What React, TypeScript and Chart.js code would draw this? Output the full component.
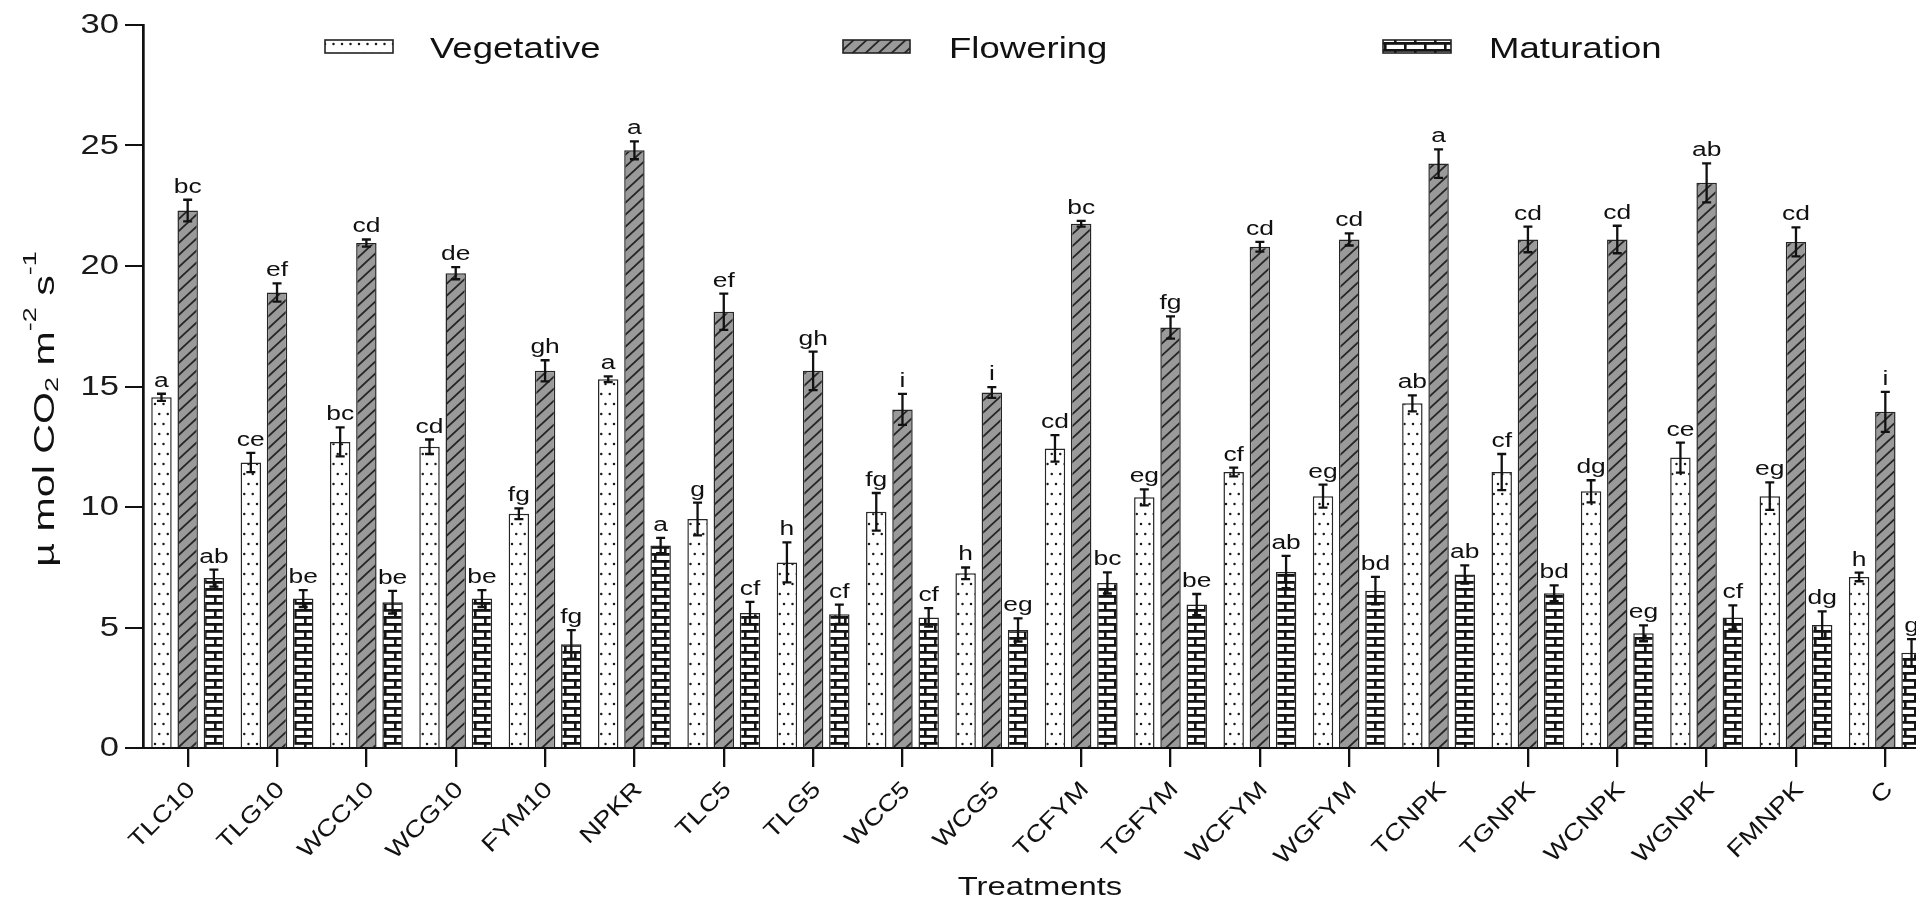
import React, { useEffect, useRef } from 'react';
import { Chart, registerables } from 'chart.js';

Chart.register(...registerables);

const categories = ['TLC10', 'TLG10', 'WCC10', 'WCG10', 'FYM10', 'NPKR', 'TLC5', 'TLG5', 'WCC5', 'WCG5', 'TCFYM', 'TGFYM', 'WCFYM', 'WGFYM', 'TCNPK', 'TGNPK', 'WCNPK', 'WGNPK', 'FMNPK', 'C'];
const seriesNames = ['Vegetative', 'Flowering', 'Maturation'];

const vegetative = [14.55, 11.85, 12.7, 12.5, 9.72, 15.3, 9.5, 7.7, 9.8, 7.25, 12.43, 10.4, 11.45, 10.45, 14.3, 11.45, 10.65, 12.05, 10.45, 7.1];
const vegetativeErr = [0.15, 0.4, 0.6, 0.3, 0.22, 0.12, 0.68, 0.83, 0.78, 0.24, 0.55, 0.33, 0.18, 0.48, 0.33, 0.75, 0.46, 0.62, 0.57, 0.18];
const flowering = [22.3, 18.9, 20.95, 19.7, 15.65, 24.8, 18.1, 15.65, 14.05, 14.75, 21.75, 17.45, 20.8, 21.1, 24.25, 21.1, 21.1, 23.45, 21.0, 13.95];
const floweringErr = [0.45, 0.38, 0.15, 0.25, 0.44, 0.37, 0.75, 0.8, 0.64, 0.22, 0.12, 0.46, 0.2, 0.25, 0.59, 0.53, 0.57, 0.81, 0.6, 0.83];
const maturation = [7.05, 6.2, 6.05, 6.2, 4.3, 8.4, 5.6, 5.55, 5.42, 4.9, 6.85, 5.95, 7.3, 6.53, 7.2, 6.42, 4.76, 5.42, 5.1, 3.95];
const maturationErr = [0.35, 0.35, 0.47, 0.35, 0.59, 0.32, 0.46, 0.4, 0.38, 0.48, 0.44, 0.44, 0.67, 0.57, 0.38, 0.33, 0.33, 0.5, 0.57, 0.57];

const vegetativeLetters = ['a', 'ce', 'bc', 'cd', 'fg', 'a', 'g', 'h', 'fg', 'h', 'cd', 'eg', 'cf', 'eg', 'ab', 'cf', 'dg', 'ce', 'eg', 'h'];
const floweringLetters = ['bc', 'ef', 'cd', 'de', 'gh', 'a', 'ef', 'gh', 'i', 'i', 'bc', 'fg', 'cd', 'cd', 'a', 'cd', 'cd', 'ab', 'cd', 'i'];
const maturationLetters = ['ab', 'be', 'be', 'be', 'fg', 'a', 'cf', 'cf', 'cf', 'eg', 'bc', 'be', 'ab', 'bd', 'ab', 'bd', 'eg', 'cf', 'dg', 'g'];

const yMin = 0;
const yMax = 30;
const yStep = 5;
const xTitle = 'Treatments';

const FONT = '"Liberation Sans", Arial, Helvetica, sans-serif';
const WIDE = 1.28; // horizontal widening of the reference's lettering

function makeDots(): CanvasPattern {
  const c = document.createElement('canvas');
  c.width = 17; c.height = 20;
  const g = c.getContext('2d')!;
  g.fillStyle = '#ffffff';
  g.fillRect(0, 0, 17, 20);
  g.fillStyle = '#1a1a1a';
  const pts = [[2, 4], [10.5, 4], [6.25, 14], [14.75, 14]];
  for (const [x, y] of pts) {
    g.beginPath();
    g.arc(x, y, 1.25, 0, Math.PI * 2);
    g.fill();
  }
  return g.createPattern(c, 'repeat')!;
}

function makeHatch(): CanvasPattern {
  const w = 13, h = 12;
  const c = document.createElement('canvas');
  c.width = w; c.height = h;
  const g = c.getContext('2d')!;
  g.fillStyle = '#9a9a9a';
  g.fillRect(0, 0, w, h);
  g.strokeStyle = '#262626';
  g.lineWidth = 1.8;
  g.beginPath();
  for (let k = 0; k <= 2; k++) {
    g.moveTo((k + 1) * w, -h);
    g.lineTo((k - 2) * w, 2 * h);
  }
  g.stroke();
  return g.createPattern(c, 'repeat')!;
}

function makeBrick(): CanvasPattern {
  const w = 20, h = 14;
  const c = document.createElement('canvas');
  c.width = w; c.height = h;
  const g = c.getContext('2d')!;
  g.fillStyle = '#ffffff';
  g.fillRect(0, 0, w, h);
  g.fillStyle = '#141414';
  g.fillRect(0, 0, w, 2.8);
  g.fillRect(0, 7, w, 2.8);
  g.fillRect(4, 0, 2.6, 7);
  g.fillRect(14, 7, 2.6, 7);
  return g.createPattern(c, 'repeat')!;
}

export default function App() {
  const canvasRef = useRef<HTMLCanvasElement | null>(null);

  useEffect(() => {
    const canvas = canvasRef.current;
    if (!canvas) return;
    const patterns = [makeDots(), makeHatch(), makeBrick()];
    const values = [vegetative, flowering, maturation];
    const errors = [vegetativeErr, floweringErr, maturationErr];
    const letters = [vegetativeLetters, floweringLetters, maturationLetters];

    const errPlugin = {
      id: 'errbars',
      afterDatasetsDraw(chart: any) {
        const ctx = chart.ctx as CanvasRenderingContext2D;
        const ys = chart.scales.y;
        values.forEach((vals, i) => {
          const meta = chart.getDatasetMeta(i);
          meta.data.forEach((bar: any, j: number) => {
            const v = vals[j];
            const e = errors[i][j];
            const x = bar.x;
            const yt = ys.getPixelForValue(v + e);
            const yb = ys.getPixelForValue(v - e);
            ctx.save();
            ctx.strokeStyle = '#111';
            ctx.lineWidth = 2.3;
            ctx.beginPath();
            ctx.moveTo(x, yt); ctx.lineTo(x, yb);
            ctx.moveTo(x - 4.5, yt); ctx.lineTo(x + 4.5, yt);
            ctx.moveTo(x - 4.5, yb); ctx.lineTo(x + 4.5, yb);
            ctx.stroke();
            ctx.translate(x, yt - 7);
            ctx.scale(1.32, 1);
            ctx.font = `20px ${FONT}`;
            ctx.textAlign = 'center';
            ctx.textBaseline = 'alphabetic';
            ctx.fillStyle = '#111';
            ctx.fillText(letters[i][j], 0, 0);
            ctx.restore();
          });
        });
      },
    };

    const decorPlugin = {
      id: 'decor',
      afterDraw(chart: any) {
        const ctx = chart.ctx as CanvasRenderingContext2D;
        const xs = chart.scales.x;
        const ys = chart.scales.y;
        // y tick labels
        ys.ticks.forEach((t: any) => {
          const py = ys.getPixelForValue(t.value);
          ctx.save();
          ctx.translate(119, py);
          ctx.scale(WIDE, 1);
          ctx.font = `27px ${FONT}`;
          ctx.textAlign = 'right';
          ctx.textBaseline = 'middle';
          ctx.fillStyle = '#1a1a1a';
          ctx.fillText(String(t.value), 0, 1);
          ctx.restore();
        });
        // x tick labels (rotated)
        categories.forEach((lab, i) => {
          const tx = xs.getPixelForValue(i);
          ctx.save();
          ctx.translate(tx - 4, 778);
          ctx.rotate(-Math.PI / 4);
          ctx.scale(1.2, 1);
          ctx.font = `23px ${FONT}`;
          ctx.textAlign = 'right';
          ctx.textBaseline = 'top';
          ctx.fillStyle = '#111';
          ctx.fillText(lab, 0, 0);
          ctx.restore();
        });
        // x title
        ctx.save();
        ctx.translate(1040, 895);
        ctx.scale(1.26, 1);
        ctx.font = `26px ${FONT}`;
        ctx.textAlign = 'center';
        ctx.textBaseline = 'alphabetic';
        ctx.fillStyle = '#111';
        ctx.fillText(xTitle, 0, 0);
        ctx.restore();
        // y title with sub/superscripts
        const parts: { t: string; k: 'n' | 'sub' | 'sup' }[] = [
          { t: 'µ mol CO', k: 'n' },
          { t: '2', k: 'sub' },
          { t: ' m', k: 'n' },
          { t: '-2', k: 'sup' },
          { t: ' s', k: 'n' },
          { t: '-1', k: 'sup' },
        ];
        ctx.save();
        ctx.translate(54, 409);
        ctx.rotate(-Math.PI / 2);
        ctx.scale(1.42, 1);
        ctx.fillStyle = '#111';
        ctx.textBaseline = 'alphabetic';
        ctx.textAlign = 'left';
        const fontFor = (k: string) => (k === 'n' ? `29px ${FONT}` : `19px ${FONT}`);
        let total = 0;
        for (const p of parts) { ctx.font = fontFor(p.k); total += ctx.measureText(p.t).width; }
        let cx = -total / 2;
        for (const p of parts) {
          ctx.font = fontFor(p.k);
          const dy = p.k === 'sub' ? 4 : p.k === 'sup' ? -18 : 0;
          ctx.fillText(p.t, cx, dy);
          cx += ctx.measureText(p.t).width;
        }
        ctx.restore();
        // legend
        const boxes = [[325, 40, 68, 13, 430], [843, 40, 67, 13, 949], [1383, 40, 68, 13, 1489]];
        boxes.forEach(([bx, by, bw, bh, tx], i) => {
          ctx.save();
          ctx.fillStyle = patterns[i];
          ctx.fillRect(bx, by, bw, bh);
          ctx.strokeStyle = '#222';
          ctx.lineWidth = 1.6;
          ctx.strokeRect(bx, by, bw, bh);
          ctx.translate(tx, 58);
          ctx.scale(1.26, 1);
          ctx.font = `29px ${FONT}`;
          ctx.textAlign = 'left';
          ctx.textBaseline = 'alphabetic';
          ctx.fillStyle = '#111';
          ctx.fillText(seriesNames[i], 0, 0);
          ctx.restore();
        });
      },
    };

    const chart = new Chart(canvas, {
      type: 'bar',
      data: {
        labels: categories,
        datasets: values.map((vals, i) => ({
          label: seriesNames[i],
          data: vals,
          backgroundColor: patterns[i],
          borderColor: '#262626',
          borderWidth: 1.5,
          categoryPercentage: 0.88,
          barPercentage: 0.78,
        })),
      },
      options: {
        responsive: false,
        animation: false,
        devicePixelRatio: 1,
        layout: { padding: { top: 25, right: 8, left: 0, bottom: 0 } },
        plugins: {
          legend: { display: false },
          tooltip: { enabled: false },
          title: { display: false },
        },
        scales: {
          x: {
            ticks: { display: false },
            grid: {
              display: true,
              drawOnChartArea: false,
              offset: false,
              drawTicks: true,
              tickLength: 19,
              color: '#111',
              lineWidth: 2.3,
            },
            border: { display: true, color: '#111', width: 2 },
            afterFit: (scale: any) => { scale.height = 151; },
          },
          y: {
            min: yMin,
            max: yMax,
            ticks: { stepSize: yStep, display: false },
            grid: {
              display: true,
              drawOnChartArea: false,
              drawTicks: true,
              tickLength: 18,
              color: '#111',
              lineWidth: 2,
            },
            border: { display: true, color: '#111', width: 2.7 },
            afterFit: (scale: any) => { scale.width = 143; },
          },
        },
      },
      plugins: [errPlugin, decorPlugin],
    });
    return () => chart.destroy();
  }, []);

  return (
    <div style={{ position: 'absolute', left: 0, top: 0, width: 1916, height: 899, overflow: 'hidden', background: '#fff' }}>
      <canvas ref={canvasRef} width={1938} height={899} style={{ display: 'block' }} />
    </div>
  );
}
